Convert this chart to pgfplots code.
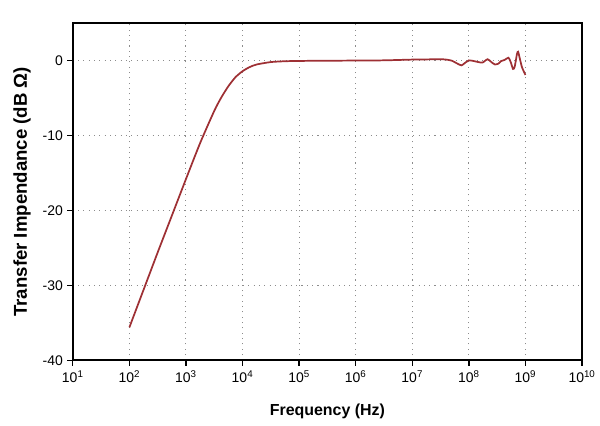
\documentclass[border=0pt]{standalone}
\usepackage{pgfplots}
\pgfplotsset{compat=1.18}
\usepackage{fontspec}
\setmainfont{Liberation Sans}
\definecolor{curvered}{RGB}{158,48,52}
\definecolor{gridgray}{RGB}{140,140,140}

\begin{document}
\begin{tikzpicture}
\begin{axis}[
    name=ax,
    scale only axis,
    width=383pt, height=253.5pt,
    xmode=log,
    xmin=10, xmax=1e10,
    ymin=-40, ymax=5,
    xtick={1e1,1e2,1e3,1e4,1e5,1e6,1e7,1e8,1e9,1e10},
    xticklabels={10\textsuperscript{1},10\textsuperscript{2},10\textsuperscript{3},10\textsuperscript{4},10\textsuperscript{5},10\textsuperscript{6},10\textsuperscript{7},10\textsuperscript{8},10\textsuperscript{9},10\textsuperscript{10}},
    ytick={-40,-30,-20,-10,0},
    yticklabels={-40,-30,-20,-10,0},
    xminorticks=false, yminorticks=false,
    tick align=outside,
    xtick pos=bottom, ytick pos=left,
    major tick length=4pt,
    tick style={black, line width=1pt},
    axis line style={line width=1.3pt},
    grid=major,
    major grid style={gridgray, line width=0.8pt, dash pattern=on 0.8pt off 3.2pt},
    tick label style={font=\fontsize{10.5}{12}\selectfont},
    xlabel={Frequency (Hz)},
    ylabel={Transfer Impendance (dB Ω)},
    xlabel style={font=\fontsize{12}{14}\selectfont\bfseries, yshift=-9pt},
    ylabel style={font=\fontsize{14}{16}\selectfont\bfseries, yshift=2pt},
]
\addplot[curvered, line width=1.3pt, smooth, tension=0.4] coordinates {
(1.000e2,-35.6) (1.778e2,-30.6) (3.162e2,-25.6) (5.623e2,-20.7)
(1.000e3,-15.8) (1.778e3,-11.0) (3.162e3,-6.7) (4.217e3,-4.9)
(5.623e3,-3.4) (7.499e3,-2.2) (1.000e4,-1.4) (1.334e4,-0.85)
(1.778e4,-0.5) (3.162e4,-0.18) (5.623e4,-0.07) (1.000e5,-0.03)
(3.162e5,0.0) (1.000e6,0.02) (3.162e6,0.05) (1.000e7,0.15)
(2.000e7,0.18) (3.162e7,0.2) (3.981e7,0.15) (5.012e7,0.0)
(6.310e7,-0.4) (7.413e7,-0.62) (8.511e7,-0.3) (1.000e8,0.05)
(1.148e8,0.0) (1.413e8,-0.15) (1.738e8,-0.25) (2.138e8,0.2)
(2.512e8,-0.2) (2.884e8,-0.5) (3.311e8,-0.4) (3.715e8,-0.05)
(4.266e8,0.1) (5.012e8,0.4) (5.495e8,-0.2) (6.026e8,-1.1)
(6.457e8,-0.8) (7.079e8,0.9) (7.413e8,1.2) (7.943e8,0.3)
(8.710e8,-0.9) (1.000e9,-1.9)
};
\end{axis}
\path ([shift={(-54.75pt,-48.75pt)}]ax.south west) rectangle ([shift={(12.5pt,17.5pt)}]ax.north east);
\end{tikzpicture}
\end{document}
